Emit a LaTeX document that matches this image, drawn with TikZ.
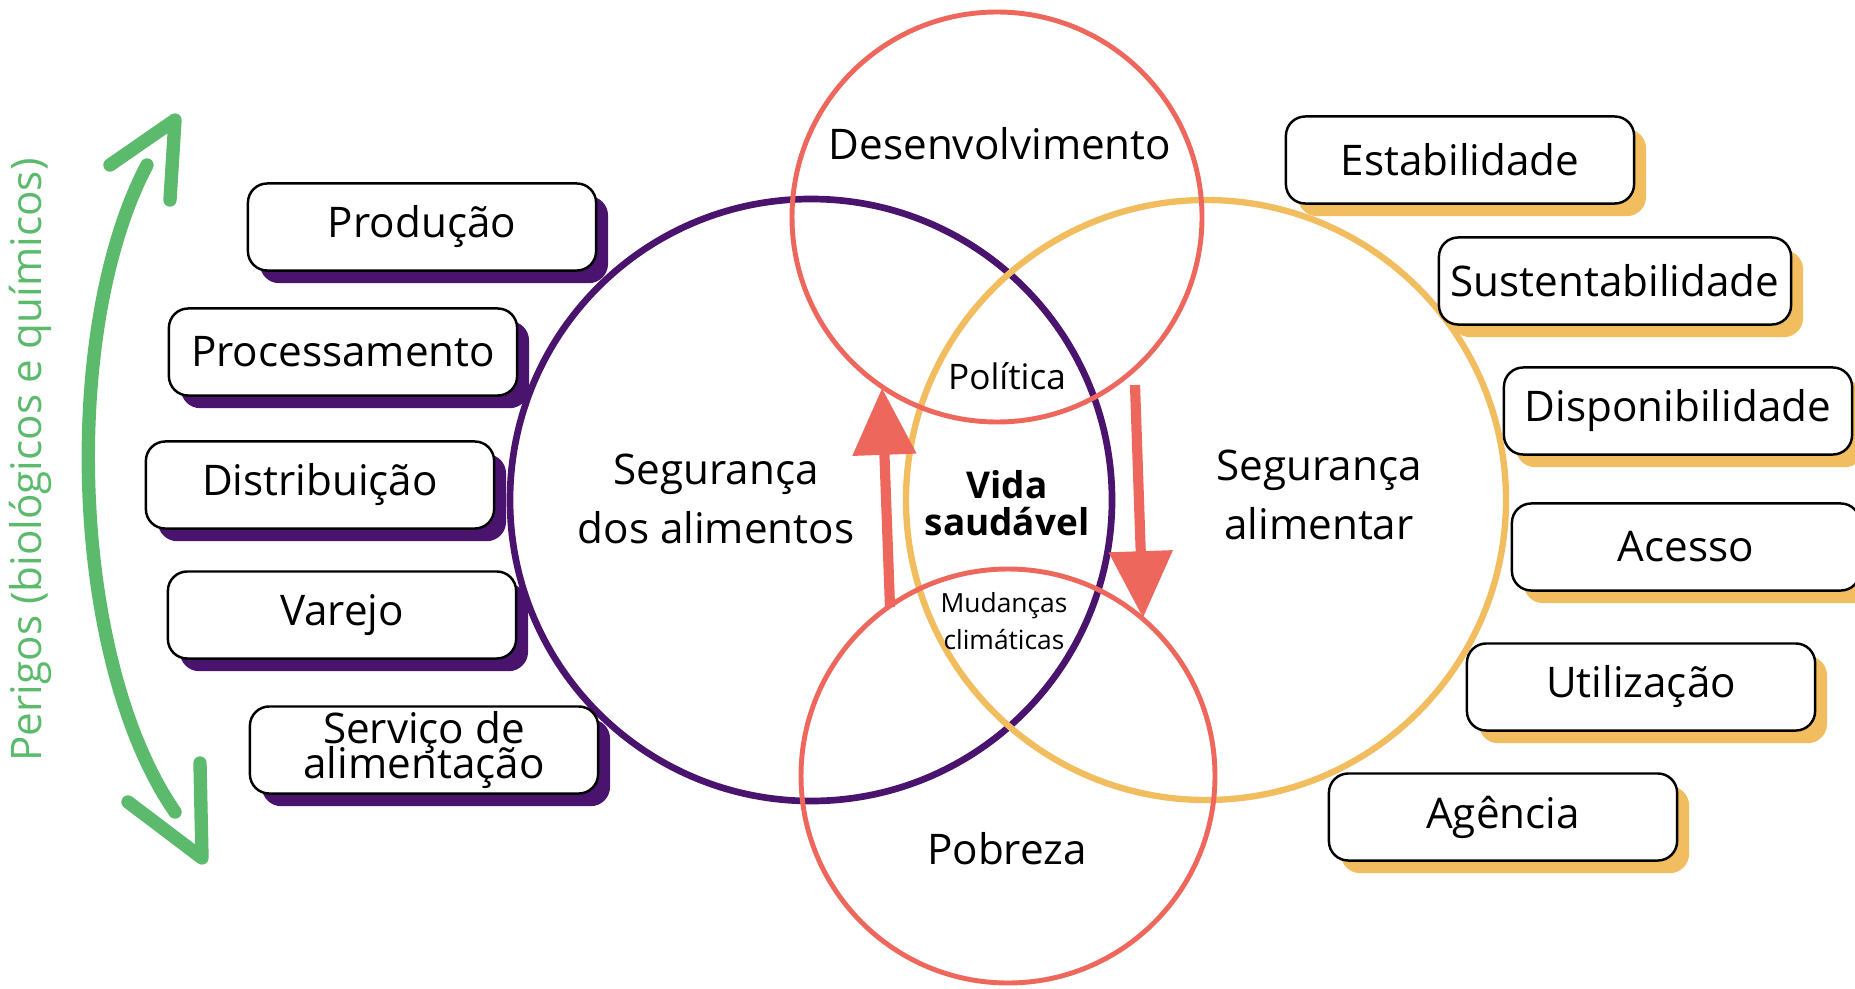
\documentclass[tikz,border=0pt]{standalone}
\usepackage{fontspec}
\setmainfont{Open Sans}
\usetikzlibrary{arrows.meta,shadows}

\definecolor{purp}{HTML}{4A146E}
\definecolor{gold}{HTML}{F2BD5E}
\definecolor{coral}{HTML}{EE675C}
\definecolor{leaf}{HTML}{5BBA6B}

\begin{document}
\begin{tikzpicture}[x=0.01cm, y=-0.01cm,
    box/.style={draw=black, line width=0.7pt, fill=white, rounded corners=5.5pt,
        minimum width=3.48cm, minimum height=0.87cm, align=center,
        font=\fontsize{12}{10.5}\selectfont},
    purpbox/.style={box, general shadow={fill=purp, shadow xshift=3.4pt, shadow yshift=-3.6pt}},
    goldbox/.style={box, general shadow={fill=gold, shadow xshift=3.4pt, shadow yshift=-3.6pt}},
    bigtext/.style={font=\fontsize{12}{16.8}\selectfont, align=center},
    flow/.style={coral, line width=2.9pt, -{Triangle[length=19pt, width=17.5pt]}},
    hazard/.style={leaf, line width=3.8pt, line cap=round, line join=round}]
    \useasboundingbox (0,0) rectangle (1855,988);

    % Circles
    \draw[purp, line width=1.9pt] (811, 500) circle (301);
    \draw[gold, line width=1.8pt] (1206, 500) circle (300);
    \draw[coral, line width=1.4pt] (997, 217) circle (205);
    \draw[coral, line width=1.4pt] (1008, 776) circle (207);

    % Circle labels
    \node[bigtext] (safety) at (716, 499) {Segurança\\dos alimentos};
    \node[bigtext] (security) at (1319, 495) {Segurança\\alimentar};
    \node[bigtext] (devel) at (1000, 144) {Desenvolvimento};
    \node[bigtext] (poverty) at (1007, 849) {Pobreza};
    \node[font=\fontsize{10}{12}\selectfont] (policy) at (1007, 376) {Política};
    \node[font=\fontsize{10.5}{10.4}\selectfont\bfseries, align=center] (life) at (1007, 503) {Vida\\saudável};
    \node[font=\fontsize{7.5}{10.4}\selectfont, align=center] (climate) at (1004, 621) {Mudanças\\climáticas};

    % Cycle arrows
    \coordinate (upA) at (890, 607);
    \coordinate (upB) at (882, 388);
    \coordinate (dnA) at (1135, 385);
    \coordinate (dnB) at (1143, 618);
    \draw[flow] (upA) -- (upB);
    \draw[flow] (dnA) -- (dnB);

    % Food chain boxes
    \node[purpbox] (prod) at (422, 227) {Produção};
    \node[purpbox] (proc) at (343, 352) {Processamento};
    \node[purpbox] (dist) at (320, 485) {Distribuição};
    \node[purpbox] (retail) at (342, 615) {Varejo};
    \node[purpbox, inner ysep=0.5pt] (service) at (424, 750) {Serviço de\\[-3pt]alimentação};

    % Food security boxes
    \node[goldbox] (stab) at (1460, 160) {Estabilidade};
    \node[goldbox] (sust) at (1615, 281) {Sustentabilidade};
    \node[goldbox] (avail) at (1678, 411) {Disponibilidade};
    \node[goldbox] (access) at (1686, 547) {Acesso};
    \node[goldbox] (use) at (1641, 687) {Utilização};
    \node[goldbox] (agency) at (1503, 817) {Agência};

    % Hazards
    \coordinate (hzTop) at (147, 165);
    \coordinate (hzBot) at (175, 812);
    \draw[hazard] (hzTop) .. controls (60, 330) and (70, 660) .. (hzBot);
    \draw[hazard] (110, 165) -- (175, 120) -- (170, 200);
    \draw[hazard] (128, 802) -- (202, 858) -- (200, 763);
    \node[rotate=90, text=leaf, font=\fontsize{12}{14}\selectfont] (hazards) at (30, 460) {Perigos (biológicos e químicos)};

\end{tikzpicture}
\end{document}
